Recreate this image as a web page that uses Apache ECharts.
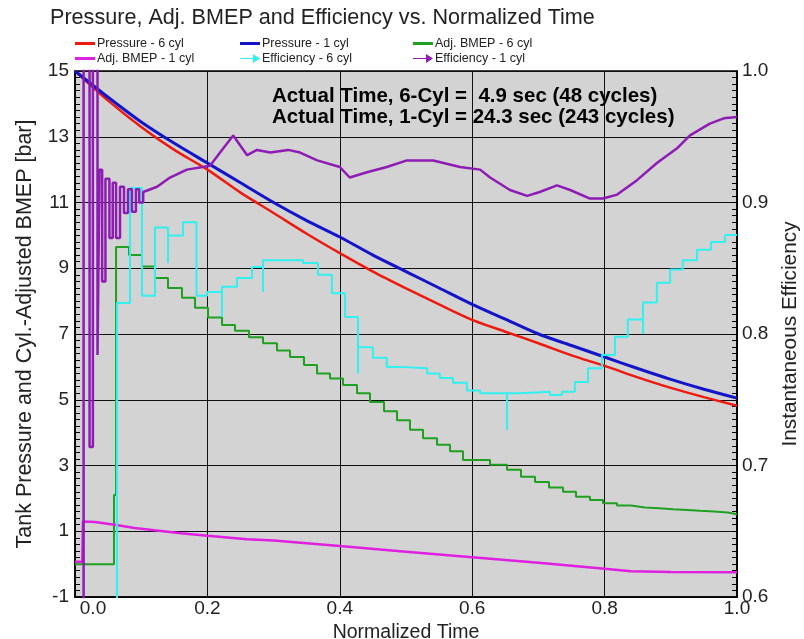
<!DOCTYPE html>
<html>
<head>
<meta charset="utf-8">
<script src="https://cdn.jsdelivr.net/npm/echarts@6/dist/echarts.min.js"></script>
<style>
html,body{margin:0;padding:0;background:#fff;overflow:hidden;}
#chart{width:804px;height:639px;}
</style>
</head>
<body>
<div id="chart"></div>
<script>
// ---- data ----
const timeGrid  = [0,0.05,0.1,0.15,0.2,0.25,0.3,0.35,0.4,0.45,0.5,0.55,0.6,0.65,0.7,0.75,0.8,0.85,0.9,0.95,1.0];
const pressure6 = [15.0,14.1,13.3,12.6,12.0,11.3,10.68,10.05,9.46,8.9,8.39,7.9,7.43,7.07,6.72,6.35,6.03,5.68,5.36,5.08,4.82];
const pressure1 = [15.0,14.2,13.45,12.8,12.2,11.6,11.0,10.45,9.95,9.4,8.9,8.4,7.9,7.45,7.0,6.65,6.3,5.95,5.62,5.32,5.05];

// Adj. BMEP 6 cyl : step starts (normalized time) and values [bar]
const bmep6X = [0,0.0589,0.0589,0.0620,0.0816,0.1012,0.1208,0.1405,0.1616,0.1813,0.2009,0.2221,0.2417,0.2628,0.2840,0.3051,0.3248,0.3459,0.3656,0.3852,0.4048,0.4260,0.4456,0.4668,0.4864,0.5060,0.5257,0.5468,0.5665,0.5861,0.6057,0.6269,0.6329,0.6330,0.6526,0.6737,0.6949,0.7160,0.7372,0.7568,0.7779,0.7976,0.8187,0.8399,0.8610,0.8822,0.9033,0.9245,0.9441,0.9653,0.9864,1.0];
const bmep6  = [0.0,0.0,2.1,9.65,9.4,9.05,8.7,8.4,8.1,7.8,7.5,7.27,7.1,6.9,6.72,6.5,6.3,6.06,5.8,5.65,5.45,5.2,4.93,4.65,4.38,4.09,3.83,3.63,3.43,3.17,3.17,3.02,3.02,3.02,2.87,2.66,2.5,2.33,2.2,2.05,1.95,1.85,1.78,1.72,1.7,1.67,1.65,1.62,1.6,1.57,1.52,1.5];

// Adj. BMEP 1 cyl
const bmep1X = [0,0.011,0.012,0.03,0.06,0.09,0.12,0.16,0.2,0.26,0.3,0.4,0.5,0.6,0.7,0.8,0.84,0.9,1.0];
const bmep1  = [0.07,0.07,1.3,1.28,1.2,1.1,1.03,0.94,0.86,0.76,0.72,0.55,0.38,0.21,0.04,-0.14,-0.22,-0.24,-0.25];

// Efficiency 6 cyl : step starts and values
const eff6X = [0.0634,0.0634,0.0831,0.1012,0.1208,0.1405,0.1405,0.1631,0.1835,0.1994,0.2220,0.2220,0.2447,0.2674,0.2840,0.2840,0.3444,0.3670,0.3880,0.4080,0.4275,0.4275,0.4500,0.4710,0.4910,0.5320,0.5510,0.5710,0.5920,0.6120,0.6526,0.6526,0.6720,0.7175,0.7356,0.7550,0.7750,0.7960,0.8157,0.8350,0.8580,0.8580,0.8790,0.8990,0.9180,0.9396,0.9607,0.9820,1.0];
const eff6  = [0.50,0.8236,0.911,0.829,0.881,0.854,0.875,0.885,0.829,0.832,0.813,0.836,0.8426,0.851,0.832,0.856,0.854,0.845,0.831,0.813,0.770,0.790,0.782,0.775,0.774,0.770,0.7665,0.763,0.757,0.755,0.727,0.755,0.756,0.7536,0.756,0.7635,0.774,0.784,0.798,0.811,0.800,0.824,0.839,0.849,0.856,0.864,0.870,0.8753,0.8753];

// Efficiency 1 cyl
const eff1X = [0.013,0.013,0.022,0.022,0.027,0.027,0.034,0.034,0.037,0.037,0.041,0.041,0.046,0.046,0.052,0.052,0.057,0.057,0.062,0.062,0.068,0.068,0.074,0.074,0.080,0.080,0.086,0.086,0.092,0.092,0.097,0.097,0.103,0.103,0.124,0.1435,0.169,0.193,0.204,0.222,0.239,0.26,0.275,0.295,0.322,0.34,0.366,0.40,0.415,0.441,0.471,0.5015,0.541,0.5816,0.612,0.627,0.657,0.683,0.702,0.728,0.748,0.778,0.7976,0.819,0.849,0.879,0.909,0.929,0.959,0.98,1.0];
const eff1  = [0.55,1.05,1.05,0.714,0.714,1.05,1.05,0.784,0.784,0.925,0.925,0.84,0.84,0.918,0.918,0.873,0.873,0.915,0.915,0.873,0.873,0.912,0.912,0.892,0.892,0.91,0.91,0.893,0.893,0.91,0.91,0.90,0.90,0.908,0.912,0.919,0.925,0.927,0.928,0.94,0.951,0.936,0.94,0.938,0.94,0.938,0.932,0.927,0.919,0.923,0.927,0.932,0.932,0.927,0.925,0.919,0.9095,0.905,0.908,0.913,0.9095,0.903,0.903,0.906,0.917,0.930,0.941,0.951,0.960,0.964,0.965];

const leftTicks = {min:-1, max:15, interval:2};
const rightTicks = {min:0.6, max:1.0, interval:0.1};
const xTicks = {min:0, max:1, interval:0.2};

const seriesNames = ['Pressure - 6 cyl','Pressure - 1 cyl','Adj. BMEP - 6 cyl','Adj. BMEP - 1 cyl','Efficiency - 6 cyl','Efficiency - 1 cyl'];
const colors = ['#ee1a10','#1414c8','#20a020','#e020e0','#30f0f0','#8e1cb4'];

function pairs(xs, ys){ return xs.map((x,i)=>[x, ys[i]]); }

const FONT = '"Liberation Sans", Arial, sans-serif';
const arrowIcon = 'path://M0,4 L13,4 L13,0 L20,4.5 L13,9 L13,5 L0,5 Z';

function legendItem(i, left, top, arrow){
  return {
    data:[{name: seriesNames[i], icon: arrow ? arrowIcon : 'rect'}],
    left:left, top:top, padding:0, itemGap:0,
    itemWidth:20, itemHeight: arrow ? 9 : 3,
    selectedMode:false,
    textStyle:{fontFamily:FONT, fontSize:12.5, color:'#222', padding:[0,0,0,-3]}
  };
}

const chart = echarts.init(document.getElementById('chart'), null, {renderer:'canvas'});
const axisLabelStyle = {fontFamily:FONT, fontSize:19, color:'#222'};

chart.setOption({
  animation:false,
  backgroundColor:'#fff',
  title:{
    text:'Pressure, Adj. BMEP and Efficiency vs. Normalized Time',
    left:50, top:7, padding:0,
    textStyle:{fontFamily:FONT, fontSize:21.6, fontWeight:'normal', color:'#222'}
  },
  legend:[
    legendItem(0, 75, 37, false),
    legendItem(1, 240, 37, false),
    legendItem(2, 413, 37, false),
    legendItem(3, 75, 52, false),
    legendItem(4, 240, 52, true),
    legendItem(5, 413, 52, true)
  ],
  grid:{left:75, right:67, top:71, bottom:42, show:true, backgroundColor:'#d3d3d3', borderColor:'#000', borderWidth:1.5, containLabel:false, outerBoundsMode:'none'},
  xAxis:{
    type:'value', min:xTicks.min, max:xTicks.max, interval:xTicks.interval,
    name:'Normalized Time', nameLocation:'middle', nameGap:19,
    nameTextStyle:{fontFamily:FONT, fontSize:19.5, color:'#222'},
    axisLine:{show:true, onZero:false, lineStyle:{color:'#000', width:1.5}},
    axisTick:{show:false},
    axisLabel:{
      ...axisLabelStyle, margin:2,
      formatter:(v)=> v===0 ? '{a|0.0}' : v.toFixed(1),
      rich:{a:{fontFamily:FONT, fontSize:19, color:'#222', padding:[0,0,0,36]}}
    },
    splitLine:{show:true, lineStyle:{color:'#111', width:1}}
  },
  yAxis:[
    {
      type:'value', min:leftTicks.min, max:leftTicks.max, interval:leftTicks.interval,
      position:'left',
      name:'Tank Pressure and Cyl.-Adjusted BMEP [bar]', nameLocation:'middle', nameGap:39, nameRotate:90,
      nameTextStyle:{fontFamily:FONT, fontSize:21.5, color:'#222'},
      axisLine:{show:true, onZero:false, lineStyle:{color:'#000', width:1.5}},
      axisTick:{show:true, inside:true, length:6, lineStyle:{color:'#000'}},
      minorTick:{show:true, splitNumber:10, length:5, lineStyle:{color:'#000', width:1}},
      axisLabel:{...axisLabelStyle, margin:6},
      splitLine:{show:true, lineStyle:{color:'#111', width:1}}
    },
    {
      type:'value', min:rightTicks.min, max:rightTicks.max, interval:rightTicks.interval,
      position:'right',
      name:'Instantaneous Efficiency', nameLocation:'middle', nameGap:42, nameRotate:90,
      nameTextStyle:{fontFamily:FONT, fontSize:20.8, color:'#222'},
      axisLine:{show:true, onZero:false, lineStyle:{color:'#000', width:1.5}},
      axisTick:{show:true, inside:true, length:6, lineStyle:{color:'#000'}},
      minorTick:{show:true, splitNumber:20, length:5, lineStyle:{color:'#000', width:1}},
      axisLabel:{...axisLabelStyle, margin:5, formatter:(v)=>v.toFixed(1)},
      splitLine:{show:false}
    }
  ],
  graphic:[
    {type:'text', left:272, top:86, z:100, style:{text:'Actual Time, 6-Cyl =  4.9 sec (48 cycles)', font:'bold 20.5px "Liberation Sans", Arial, sans-serif', fill:'#000'}},
    {type:'text', left:272, top:107, z:100, style:{text:'Actual Time, 1-Cyl = 24.3 sec (243 cycles)', font:'bold 20.5px "Liberation Sans", Arial, sans-serif', fill:'#000'}}
  ],
  series:[
    {name:seriesNames[0], type:'line', yAxisIndex:0, data:pairs(timeGrid, pressure6), showSymbol:false, smooth:0.3, color:colors[0], lineStyle:{width:2.5}, clip:true, z:2},
    {name:seriesNames[1], type:'line', yAxisIndex:0, data:pairs(timeGrid, pressure1), showSymbol:false, smooth:0.3, color:colors[1], lineStyle:{width:3}, clip:true, z:3},
    {name:seriesNames[2], type:'line', yAxisIndex:0, data:pairs(bmep6X, bmep6), step:'end', showSymbol:false, color:colors[2], lineStyle:{width:2}, clip:true, z:2},
    {name:seriesNames[3], type:'line', yAxisIndex:0, data:pairs(bmep1X, bmep1), showSymbol:false, color:colors[3], lineStyle:{width:2.5}, clip:true, z:2},
    {name:seriesNames[4], type:'line', yAxisIndex:1, data:pairs(eff6X, eff6), step:'end', showSymbol:false, color:colors[4], lineStyle:{width:2}, clip:true, z:4},
    {name:seriesNames[5], type:'line', yAxisIndex:1, data:pairs(eff1X, eff1), showSymbol:false, color:colors[5], lineStyle:{width:2.5}, clip:true, z:4}
  ]
});
</script>
</body>
</html>
